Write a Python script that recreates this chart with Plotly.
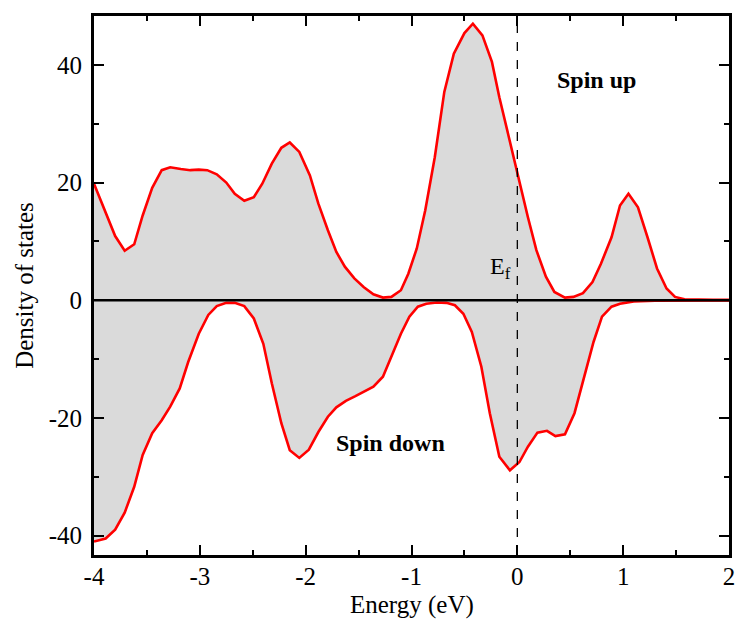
import plotly.graph_objects as go

# Spin-up DOS
up_x = [-4.00, -3.80, -3.71, -3.62, -3.54, -3.45, -3.36, -3.28, -3.18, -3.09, -3.01, -2.93,
        -2.84, -2.75, -2.67, -2.58, -2.49, -2.41, -2.32, -2.23, -2.15, -2.06, -1.96, -1.88,
        -1.79, -1.71, -1.63, -1.54, -1.45, -1.36, -1.27, -1.19, -1.10, -1.03, -0.95, -0.87,
        -0.78, -0.69, -0.60, -0.50, -0.42, -0.33, -0.24, -0.17, -0.08, 0.01, 0.10, 0.18,
        0.27, 0.35, 0.45, 0.53, 0.62, 0.71, 0.79, 0.89, 0.97, 1.05, 1.14, 1.23, 1.32, 1.41,
        1.49, 1.58, 1.70, 1.85, 2.00]
up_y = [19.8, 10.9, 8.4, 9.5, 14.4, 19.1, 22.1, 22.6, 22.3, 22.1, 22.2, 22.1,
        21.4, 20.0, 18.1, 16.9, 17.5, 19.8, 23.2, 25.9, 26.8, 25.2, 21.2, 16.4,
        11.9, 8.2, 5.7, 3.7, 2.2, 1.0, 0.45, 0.56, 1.7, 4.5, 8.8, 15.3,
        24.3, 35.4, 41.9, 45.4, 47.0, 45.0, 40.5, 34.5, 27.7, 20.7, 14.1, 8.5,
        4.0, 1.4, 0.45, 0.56, 1.2, 3.1, 6.2, 10.7, 16.1, 18.1, 15.8, 10.7, 5.4, 2.0,
        0.56, 0.17, 0.08, 0.05, 0.05]

# Spin-down DOS
dn_x = [-4.00, -3.89, -3.80, -3.71, -3.62, -3.54, -3.45, -3.36, -3.28, -3.19, -3.11, -3.01,
        -2.92, -2.84, -2.75, -2.67, -2.58, -2.49, -2.40, -2.32, -2.23, -2.15, -2.06, -1.97,
        -1.88, -1.79, -1.71, -1.62, -1.53, -1.45, -1.36, -1.27, -1.19, -1.10, -1.02, -0.94,
        -0.86, -0.76, -0.67, -0.59, -0.51, -0.43, -0.34, -0.26, -0.17, -0.07, 0.02, 0.10,
        0.19, 0.28, 0.36, 0.45, 0.54, 0.63, 0.72, 0.80, 0.89, 0.97, 1.10, 1.30, 1.60, 2.00]
dn_y = [-41.0, -40.5, -39.0, -36.1, -31.7, -26.3, -22.6, -20.4, -18.1, -15.0, -10.5, -5.7,
        -2.5, -1.0, -0.45, -0.45, -1.0, -3.1, -7.4, -14.1, -20.9, -25.5, -26.8, -25.4,
        -22.4, -19.8, -18.2, -17.1, -16.3, -15.6, -14.7, -13.0, -9.6, -5.7, -2.8, -1.1,
        -0.6, -0.4, -0.45, -0.85, -2.3, -5.4, -11.3, -19.2, -26.6, -28.9, -27.5, -24.9,
        -22.5, -22.2, -23.1, -22.8, -19.2, -13.1, -7.1, -2.8, -1.1, -0.6, -0.2, -0.1, -0.05, -0.05]

x_ticks = [-4, -3, -2, -1, 0, 1, 2]
y_ticks = [-40, -20, 0, 20, 40]

FONT = "Liberation Serif, Times New Roman, Times, serif"
RED = "#ff0000"
FILL = "#dadada"

fig = go.Figure()
fig.add_trace(go.Scatter(x=up_x, y=up_y, mode="lines", fill="tozeroy", fillcolor=FILL,
                         line=dict(color=RED, width=2.6), showlegend=False))
fig.add_trace(go.Scatter(x=dn_x, y=dn_y, mode="lines", fill="tozeroy", fillcolor=FILL,
                         line=dict(color=RED, width=2.6), showlegend=False))

fig.add_hline(y=0, line=dict(color="black", width=2.4))
fig.add_vline(x=0, line=dict(color="black", width=1.3, dash="dash"))

fig.add_annotation(x=0.75, y=37.4, text="<b>Spin up</b>", showarrow=False,
                   font=dict(family=FONT, size=24, color="black"))
fig.add_annotation(x=-1.20, y=-24.3, text="<b>Spin down</b>", showarrow=False,
                   font=dict(family=FONT, size=24, color="black"))
fig.add_annotation(x=-0.16, y=5.5, text="E<sub>f</sub>", showarrow=False,
                   font=dict(family=FONT, size=24, color="black"))
# x-axis title
fig.add_annotation(xref="paper", yref="paper", x=0.5, y=-0.092, yanchor="middle",
                   text="Energy (eV)", showarrow=False,
                   font=dict(family=FONT, size=25, color="black"))

axis_common = dict(showline=True, linecolor="black", linewidth=3, mirror="ticks",
                   ticks="inside", ticklen=10, tickwidth=2.2, tickcolor="black",
                   showgrid=False, zeroline=False, automargin=False,
                   tickfont=dict(family=FONT, size=25, color="black"))

fig.update_xaxes(range=[-4, 2], tickvals=x_ticks, ticktext=[str(v) for v in x_ticks],
                 ticklabelstandoff=-3,
                 minor=dict(ticks="inside", ticklen=5, tickwidth=2.2, dtick=0.5, tickcolor="black"),
                 **axis_common)
fig.update_yaxes(range=[-43.3, 48.3], tickvals=y_ticks, ticktext=[str(v) for v in y_ticks],
                 ticklabelstandoff=4,
                 minor=dict(ticks="inside", ticklen=5, tickwidth=2.2, dtick=10, tickcolor="black"),
                 title=dict(text="Density of states", font=dict(family=FONT, size=25, color="black"),
                            standoff=8),
                 **axis_common)

fig.update_layout(width=739, height=619, margin=dict(l=94, r=10, t=16, b=64),
                  plot_bgcolor="white", paper_bgcolor="white")

fig.write_html("out.html")
